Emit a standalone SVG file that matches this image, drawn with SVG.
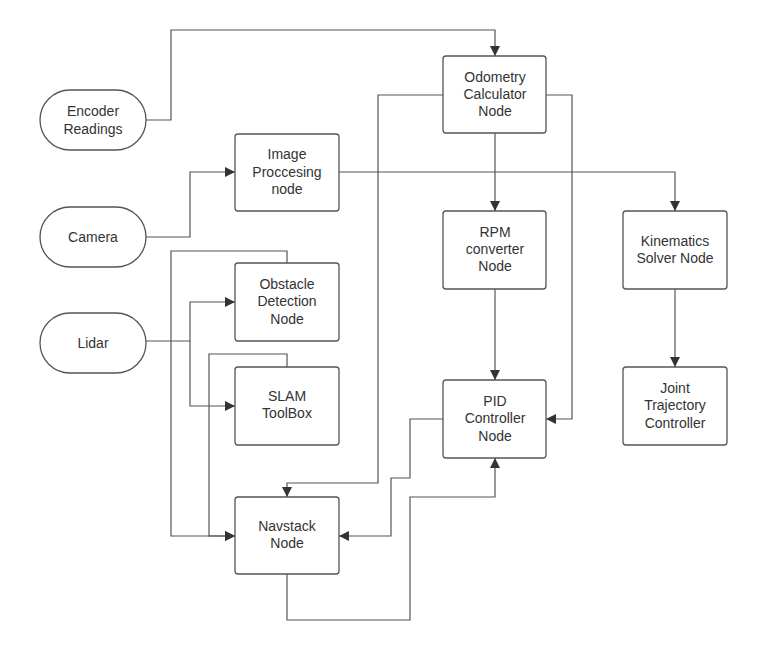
<svg xmlns="http://www.w3.org/2000/svg" width="760" height="662" viewBox="0 0 760 662">
<defs>
<marker id="a" viewBox="0 0 10 10" refX="10" refY="5" markerWidth="10" markerHeight="10" markerUnits="userSpaceOnUse" orient="auto"><path d="M0,0L10,5L0,10z" fill="#333"/></marker>
<style>
.b{fill:#fff;stroke:#555;stroke-width:1.3}
.t{font-family:"Liberation Sans",Arial,sans-serif;font-size:14px;fill:#333;text-anchor:middle}
.c{fill:none;stroke:#555;stroke-width:1.2;marker-end:url(#a)}
</style>
</defs>
<rect width="760" height="662" fill="#fff"/>
<g id="connectors">
<path class="c" d="M146,120H171V30H495V56"/>
<path class="c" d="M146,237H190V172H235"/>
<path class="c" d="M339,172H675V211"/>
<path class="c" d="M443,95H378V483H287V497"/>
<path class="c" d="M546,95H572V419H546"/>
<path class="c" d="M495,133V211"/>
<path class="c" d="M495,289V380"/>
<path class="c" d="M675,289V367"/>
<path class="c" d="M146,341H190V302H235"/>
<path class="c" d="M190,341V406H235"/>
<path class="c" d="M287,263V251H171V536H235"/>
<path class="c" d="M287,367V354H209V536H235"/>
<path class="c" d="M443,419H410V478H391V536H339"/>
<path class="c" d="M287,574V620H410V497H495V458"/>
</g>
<g id="encoder"><rect class="b" x="40" y="90" width="106" height="60" rx="30"/><text class="t" x="93" y="116">Encoder</text><text class="t" x="93" y="134">Readings</text></g>
<g id="camera"><rect class="b" x="40" y="207" width="106" height="60" rx="30"/><text class="t" x="93" y="242">Camera</text></g>
<g id="lidar"><rect class="b" x="40" y="313" width="106" height="60" rx="30"/><text class="t" x="93" y="348">Lidar</text></g>
<g id="odometry"><rect class="b" x="443" y="56" width="103" height="77" rx="3"/><text class="t" x="495" y="82">Odometry</text><text class="t" x="495" y="99">Calculator</text><text class="t" x="495" y="116">Node</text></g>
<g id="image"><rect class="b" x="235" y="134" width="104" height="77" rx="3"/><text class="t" x="287" y="159">Image</text><text class="t" x="287" y="177">Proccesing</text><text class="t" x="287" y="194">node</text></g>
<g id="rpm"><rect class="b" x="443" y="211" width="103" height="78" rx="3"/><text class="t" x="495" y="237">RPM</text><text class="t" x="495" y="254">converter</text><text class="t" x="495" y="271">Node</text></g>
<g id="kinematics"><rect class="b" x="623" y="211" width="104" height="78" rx="3"/><text class="t" x="675" y="246">Kinematics</text><text class="t" x="675" y="263">Solver Node</text></g>
<g id="obstacle"><rect class="b" x="235" y="263" width="104" height="78" rx="3"/><text class="t" x="287" y="289">Obstacle</text><text class="t" x="287" y="306">Detection</text><text class="t" x="287" y="324">Node</text></g>
<g id="slam"><rect class="b" x="235" y="367" width="104" height="78" rx="3"/><text class="t" x="287" y="401">SLAM</text><text class="t" x="287" y="418">ToolBox</text></g>
<g id="pid"><rect class="b" x="443" y="380" width="103" height="78" rx="3"/><text class="t" x="495" y="406">PID</text><text class="t" x="495" y="423">Controller</text><text class="t" x="495" y="441">Node</text></g>
<g id="joint"><rect class="b" x="623" y="367" width="104" height="78" rx="3"/><text class="t" x="675" y="393">Joint</text><text class="t" x="675" y="410">Trajectory</text><text class="t" x="675" y="428">Controller</text></g>
<g id="navstack"><rect class="b" x="235" y="497" width="104" height="77" rx="3"/><text class="t" x="287" y="531">Navstack</text><text class="t" x="287" y="548">Node</text></g>
</svg>
